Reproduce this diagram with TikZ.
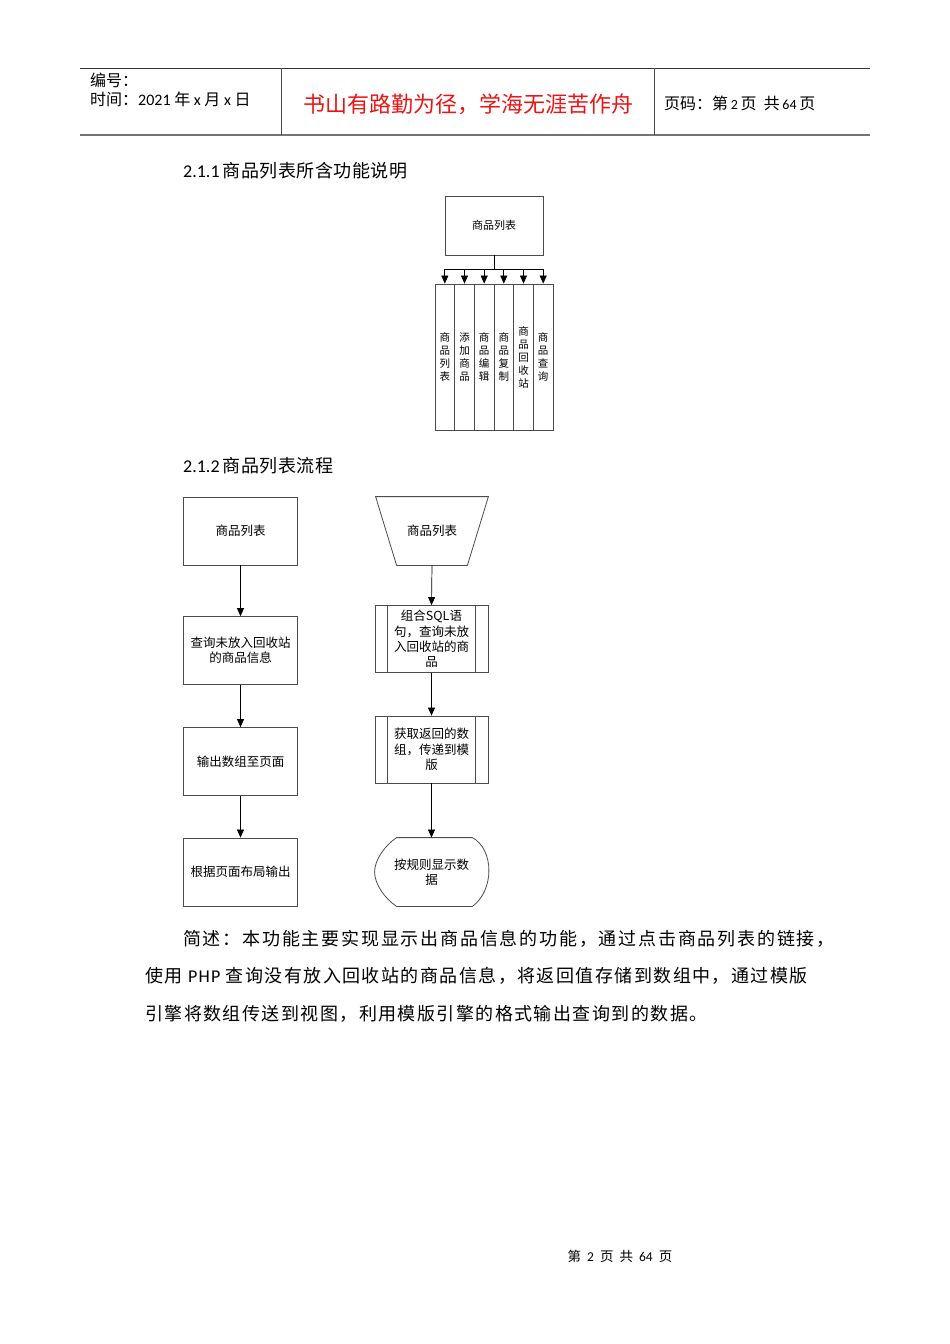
\documentclass[tikz,border=0pt]{standalone}
\usepackage{fontspec}
\setmainfont{Carlito}
\newfontfamily\cjk{Noto Sans CJK SC}
\newfontfamily\cjkp[LetterSpace=8]{Noto Sans CJK SC}
\newfontfamily\cjkq[LetterSpace=10]{Noto Sans CJK SC}
\newfontfamily\carlp[LetterSpace=7]{Carlito}
\newfontfamily\cjkh[LetterSpace=3]{Noto Sans CJK SC}
\usetikzlibrary{arrows.meta}
\definecolor{hdrred}{RGB}{235,20,20}
\begin{document}
\begin{tikzpicture}[x=1pt,y=-1pt,
  box/.style={draw=black!70,line width=0.8pt,inner sep=1pt,align=center,
    minimum width=114pt,minimum height=68pt,font=\cjk\fontsize{12.5}{15.3}\selectfont},
  col/.style={draw=black!70,line width=0.8pt,inner sep=0pt,align=center,
    minimum width=19.67pt,minimum height=146pt,font=\cjk\fontsize{10.5}{13}\selectfont},
  arr/.style={-{Triangle[width=7pt,length=8pt]},line width=0.7pt,black},
  hdr/.style={anchor=west,inner sep=0pt,font=\fontsize{16}{18}\selectfont},
  plain/.style={inner sep=0pt}]
\useasboundingbox (0,0) rectangle (950,1344);
% header
\draw[black!80,line width=1pt] (80,68) -- (870,68);
\draw[black!55,line width=2.2pt] (80,135) -- (870,135);
\draw[black!70,line width=1pt] (281,68) -- (281,135);
\draw[black!70,line width=1pt] (654,68) -- (654,135);
\node[hdr] (h1) at (90,80) {\cjk 编号：};
\node[hdr] (h2) at (90,99) {{\cjk 时间：}2021 {\cjk 年} x {\cjk 月} x {\cjk 日}};
\node[plain,text=hdrred,font=\cjk\fontsize{22}{24}\selectfont] (h3) at (468,104) {书山有路勤为径，学海无涯苦作舟};
\node[hdr] (h4) at (664,103) {{\cjk 页码：第}\,{\fontsize{14}{15}\selectfont 2}\,{\cjk 页\ \ 共}\,{\fontsize{14}{15}\selectfont 64}\,{\cjk 页}};
% section 2.1.1
\node[hdr,font=\fontsize{18}{20}\selectfont] (s1) at (183,171) {2.1.1\,{\cjkh 商品列表所含功能说明}};
\node[box,minimum width=98pt,minimum height=59pt,font=\cjk\fontsize{11}{13}\selectfont] (top) at (494,225.5) {商品列表};
\node[col] (c1) at (444.8,357) {商\\品\\列\\表};
\node[col] (c2) at (464.5,357) {添\\加\\商\\品};
\node[col] (c3) at (484.2,357) {商\\品\\编\\辑};
\node[col] (c4) at (503.8,357) {商\\品\\复\\制};
\node[col] (c5) at (523.5,357) {商\\品\\回\\收\\站};
\node[col] (c6) at (543.2,357) {商\\品\\查\\询};
\coordinate (bus) at (494,269);
\draw[line width=0.9pt] (top.south) -- (bus);
\draw[line width=0.7pt] (c1.north |- bus) -- (c6.north |- bus);
\foreach \c in {c1,c2,c3,c4,c5,c6} \draw[arr] (\c.north |- bus) -- (\c.north);
% section 2.1.2
\node[hdr,font=\fontsize{18}{20}\selectfont] (s2) at (183,466) {2.1.2\,{\cjkh 商品列表流程}};
\node[box] (L1) at (240.5,531) {商品列表};
\node[box] (L2) at (240.5,650.5) {查询未放入回收站\\的商品信息};
\node[box] (L3) at (240.5,761.5) {输出数组至页面};
\node[box] (L4) at (240.5,872) {根据页面布局输出};
\draw[arr] (L1) -- (L2);
\draw[arr] (L2) -- (L3);
\draw[arr] (L3) -- (L4);
% right flow
\node[box,draw=none,minimum width=112pt] (R0) at (432,531) {商品列表};
\draw[black!70,line width=0.8pt] (R0.north west) -- (R0.north east) -- ([xshift=-21pt]R0.south east) -- ([xshift=21pt]R0.south west) -- cycle;
\node[box,minimum width=113pt,minimum height=67pt] (R1) at (431.5,639) {组合SQL语\\句，查询未放\\入回收站的商\\品};
\draw[black!70,line width=0.8pt] ([xshift=13pt]R1.north west) -- ([xshift=13pt]R1.south west);
\draw[black!70,line width=0.8pt] ([xshift=-13pt]R1.north east) -- ([xshift=-13pt]R1.south east);
\node[box,minimum width=113pt,minimum height=67pt] (R2) at (431.5,749.5) {获取返回的数\\组，传递到模\\版};
\draw[black!70,line width=0.8pt] ([xshift=13pt]R2.north west) -- ([xshift=13pt]R2.south west);
\draw[black!70,line width=0.8pt] ([xshift=-13pt]R2.north east) -- ([xshift=-13pt]R2.south east);
\node[box,draw=none,minimum width=113pt] (R3) at (431.5,872) {按规则显示数\\据};
\draw[black!70,line width=0.8pt] ([xshift=22pt]R3.north west) -- ([xshift=-16pt]R3.north east)
  .. controls ([xshift=6pt,yshift=-12pt]R3.north east) and ([xshift=6pt,yshift=16pt]R3.south east) .. ([xshift=-16pt]R3.south east)
  -- ([xshift=22pt]R3.south west)
  .. controls ([xshift=10pt,yshift=8pt]R3.south west) and ([xshift=0pt,yshift=-12pt]R3.west) .. (R3.west)
  .. controls ([xshift=0pt,yshift=12pt]R3.west) and ([xshift=10pt,yshift=-8pt]R3.north west) .. cycle;
\draw[arr] (R0.south) -- (R1.north);
\draw[arr] (R1.south) -- (R2.north);
\draw[arr] (R2.south) -- (R3.north);
% paragraph
\node[hdr,font=\cjkq\fontsize{18}{22}\selectfont] (p1) at (183,939) {简述：本功能主要实现显示出商品信息的功能，通过点击商品列表的链接，};
\node[hdr,font=\cjkp\fontsize{18}{22}\selectfont] (p2) at (145,976) {使用 {\carlp PHP} 查询没有放入回收站的商品信息，将返回值存储到数组中，通过模版};
\node[hdr,font=\cjkp\fontsize{18}{22}\selectfont] (p3) at (145,1014) {引擎将数组传送到视图，利用模版引擎的格式输出查询到的数据。};
% footer
\node[plain,font=\fontsize{13.5}{15}\selectfont] (ft) at (620,1256) {{\cjk 第}\hspace{6pt}2\hspace{6pt}{\cjk 页}\hspace{6pt}{\cjk 共}\hspace{6pt}64\hspace{6pt}{\cjk 页}};
\end{tikzpicture}
\end{document}
